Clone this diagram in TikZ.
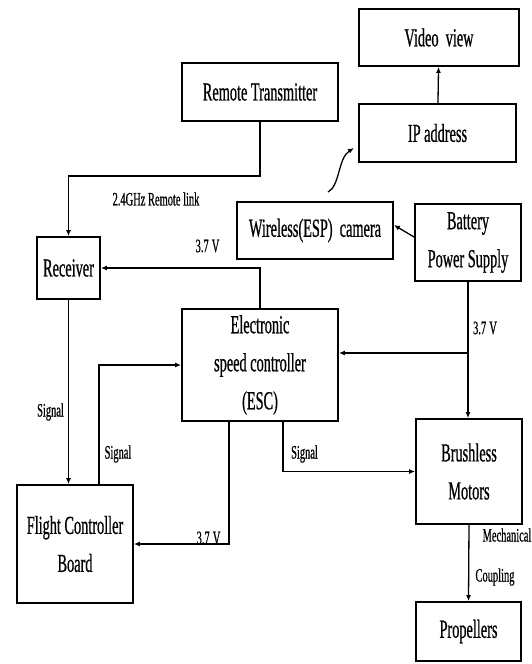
\documentclass[tikz,border=0pt]{standalone}
\usepackage{fontspec}
\setmainfont[FakeStretch=0.55,FakeBold=0.6]{Liberation Serif}
\usetikzlibrary{calc}
\usetikzlibrary{arrows.meta}
\newcommand\volt[0]{3.7\,V}

\tikzset{
  blk/.style={draw=black, line width=1.8pt, inner sep=0pt, align=center,
    font=\fontsize{26}{38}\selectfont},
  lbl/.style={inner sep=0pt, font=\fontsize{19}{22}\selectfont},
  conn/.style={line width=1.3pt, -{Latex[length=6pt,width=5pt]}},
}

\begin{document}
\begin{tikzpicture}  [x=1pt,y=-1pt]

\useasboundingbox (0,0) rectangle (532,664);

\node[blk, minimum width=160pt, minimum height=57pt] (video) at (439,37.5) {Video\ \ view};
\node[blk, minimum width=156pt, minimum height=58pt] (remote) at (260,92) {Remote Transmitter};
\node[blk, minimum width=157pt, minimum height=58pt] (ip) at (437.5,133) {IP address};
\node[blk, minimum width=156pt, minimum height=57pt] (camera) at (315,230.5) {Wireless(ESP)\ \ camera};
\node[blk, minimum width=106pt, minimum height=77pt] (battery) at (468,242.5) {Battery\\Power Supply};
\node[blk, minimum width=63pt, minimum height=62pt] (receiver) at (68.5,268) {Receiver};
\node[blk, minimum width=156pt, minimum height=112pt] (esc) at (260,365) {Electronic\\speed controller\\(ESC)};
\node[blk, minimum width=106pt, minimum height=105pt] (brushless) at (469,471.5) {Brushless\\Motors};
\node[blk, minimum width=116pt, minimum height=118pt] (fcb) at (75,544) {Flight Controller\\Board};
\node[blk, minimum width=105pt, minimum height=59pt] (prop) at (468.5,631.5) {Propellers};

\coordinate (wifia) at (328,192);
\coordinate (wifib) at (354,148);
\coordinate (split) at (468,353);

\draw[conn] (remote.south) -- ++(0,54) -| (receiver.north);
\draw[conn] (ip) -- (video);
\draw[conn] (wifia) .. controls (340,186) and (338,158) .. (wifib);
\draw[conn] ([yshift=5.5pt]battery.west) -- ([yshift=5.5pt]camera.east);
\draw[conn] (esc.north) |- (receiver.east);
\draw[conn] (battery.south) -- (battery.south |- brushless.north);
\draw[conn] (split) -- (split -| esc.east);
\draw[conn] ([xshift=24pt]fcb.north) |- (esc.west);
\draw[conn] (receiver.south) -- (receiver.south |- fcb.north);
\draw[conn] ([xshift=-31pt]esc.south) |- (fcb.east);
\draw[conn] ([xshift=23pt]esc.south) |- (brushless.west);
\draw[conn] (brushless.south) -- (prop.north);

\node[lbl] (link) at (156,199) {2.4GHz Remote link};
\node[lbl] (vrec) at (207.5,246) {\volt};
\node[lbl] (vbat) at (485,328) {\volt};
\node[lbl] (sigrec) at (50.5,412) {Signal};
\node[lbl] (sigfcb) at (118,454) {Signal};
\node[lbl] (vfcb) at (208.5,538) {\volt};
\node[lbl] (sigmot) at (304.5,454) {Signal};
\node[lbl] (mech) at (507,535) {Mechanical};
\node[lbl] (coup) at (495,577) {Coupling};

\end{tikzpicture}
\end{document}
